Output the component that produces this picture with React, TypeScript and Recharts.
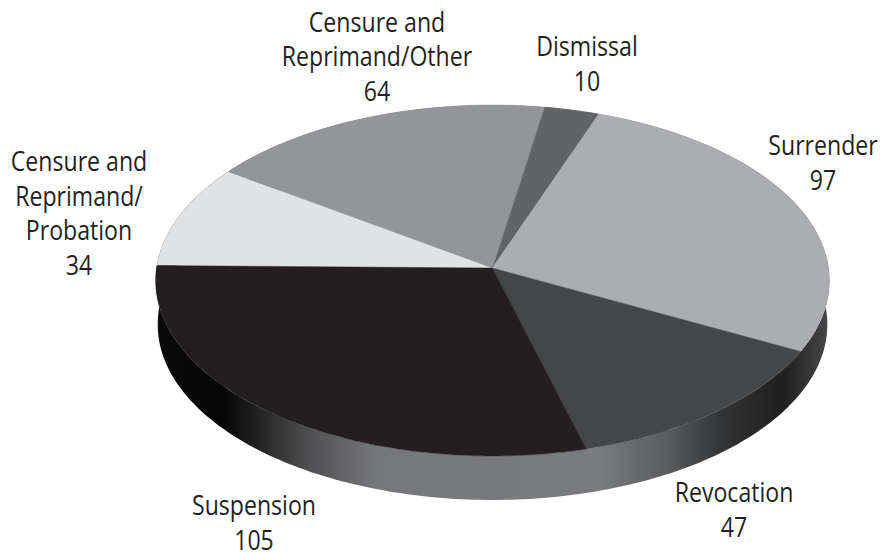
import { Pie, PieChart } from "recharts";

const categories = [
  ["Censure and", "Reprimand/", "Probation"],
  ["Censure and", "Reprimand/Other"],
  ["Dismissal"],
  ["Surrender"],
  ["Revocation"],
  ["Suspension"],
];
const counts = [34, 64, 10, 97, 47, 105];
const shades = ["#e1e2e4", "#939598", "#626365", "#abadb0", "#454648", "#231f20"];

const data = categories.map((lines, i) => ({
  name: lines.join(" "),
  lines,
  value: counts[i],
  fill: shades[i],
}));
const rim = [{ name: "rim", value: counts.reduce((a, b) => a + b, 0) }];

// centre x and last baseline of each label block
const labelSpots = [
  { x: 79, y: 275 },
  { x: 377, y: 101 },
  { x: 587, y: 91 },
  { x: 823, y: 190 },
  { x: 734, y: 537 },
  { x: 254, y: 550 },
];

const W = 883;
const H = 554;
const APEX_X = 492.5;
const APEX_Y = 268;
const RADIUS = 336;
const FLAT = 174.6;
const PERSPECTIVE = -0.0712;
const DEPTH = 44;
const LINE_GAP = 34.5;
const TEXT = "#231f20";
const TEXT_SQUEEZE = 0.825;

// tilted disc: the near side of the unit circle comes out bigger than the far side
function project(angle: number) {
  const rad = (angle * Math.PI) / 180;
  const u = Math.cos(rad);
  const v = -Math.sin(rad);
  const w = 1 + PERSPECTIVE * v;
  return { x: APEX_X + (RADIUS * u) / w, y: APEX_Y + (FLAT * v) / w };
}

function arcPoints(from: number, to: number) {
  const steps = Math.max(2, Math.ceil(Math.abs(to - from)));
  const pts = [];
  for (let i = 0; i <= steps; i++) pts.push(project(from + ((to - from) * i) / steps));
  return pts;
}

function toPath(pts: { x: number; y: number }[]) {
  return pts.map((p, i) => `${i ? "L" : "M"}${p.x.toFixed(2)} ${p.y.toFixed(2)}`).join(" ") + " Z";
}

function TopSlice(props: any) {
  const { startAngle, endAngle, fill } = props;
  const pts = [{ x: APEX_X, y: APEX_Y }, ...arcPoints(startAngle, endAngle)];
  return <path d={toPath(pts)} fill={fill} stroke={fill} strokeWidth={0.4} />;
}

function RimBand(props: any) {
  const { startAngle, endAngle } = props;
  const top = arcPoints(startAngle, endAngle);
  const bottom = top
    .map((p) => ({ x: APEX_X + (p.x - APEX_X) * 0.994, y: p.y + DEPTH }))
    .reverse();
  return <path d={toPath([...top, ...bottom])} fill="url(#rimShade)" />;
}

function SliceLabel(props: any) {
  const spot = labelSpots[props.index];
  const lines: string[] = [...props.payload.lines, String(props.value)];
  return (
    <text
      transform={`translate(${spot.x} 0) scale(${TEXT_SQUEEZE} 1)`}
      x={0}
      y={spot.y - (lines.length - 1) * LINE_GAP}
      textAnchor="middle"
      fontFamily="'Open Sans', sans-serif"
      fontSize={28}
      fill={TEXT}
    >
      {lines.map((line, i) => (
        <tspan key={i} x={0} dy={i ? LINE_GAP : 0}>
          {line}
        </tspan>
      ))}
    </text>
  );
}

export default function App() {
  return (
    <div style={{ position: "absolute", left: 0, top: 0, width: W, height: H, background: "#fff" }}>
      <PieChart width={W} height={H} margin={{ top: 0, right: 0, bottom: 0, left: 0 }}>
        <defs>
          <linearGradient id="rimShade" gradientUnits="userSpaceOnUse" x1={155} y1={0} x2={830} y2={0}>
            <stop offset="0" stopColor="#6b6c6e" />
            <stop offset="0.006" stopColor="#0a0a0a" />
            <stop offset="0.1" stopColor="#060606" />
            <stop offset="0.15" stopColor="#202021" />
            <stop offset="0.22" stopColor="#4c4c4e" />
            <stop offset="0.33" stopColor="#77787b" />
            <stop offset="0.66" stopColor="#7a7b7e" />
            <stop offset="0.76" stopColor="#5a5b5d" />
            <stop offset="0.84" stopColor="#323334" />
            <stop offset="0.93" stopColor="#1f1f20" />
            <stop offset="1" stopColor="#48484a" />
          </linearGradient>
        </defs>
        <Pie
          data={rim}
          dataKey="value"
          cx={APEX_X}
          cy={APEX_Y}
          outerRadius={RADIUS}
          startAngle={0}
          endAngle={-360}
          stroke="none"
          shape={RimBand}
          isAnimationActive={false}
        />
        <Pie
          data={data}
          dataKey="value"
          cx={APEX_X}
          cy={APEX_Y}
          outerRadius={RADIUS}
          startAngle={179.2}
          endAngle={-180.8}
          stroke="none"
          shape={TopSlice}
          label={SliceLabel}
          labelLine={false}
          isAnimationActive={false}
        />
      </PieChart>
    </div>
  );
}
